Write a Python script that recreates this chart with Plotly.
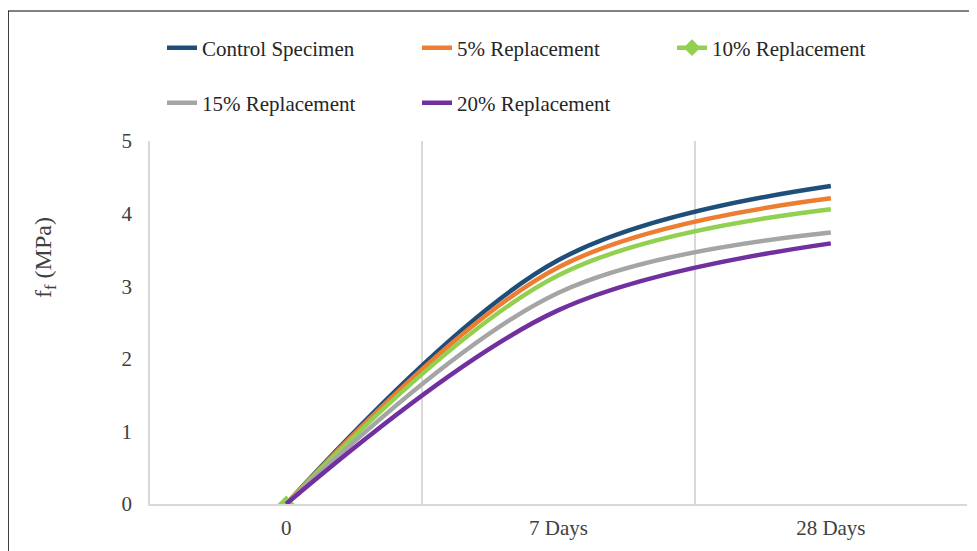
import plotly.graph_objects as go

categories = ["0", "7 Days", "28 Days"]
series_names = ["Control Specimen", "5% Replacement", "10% Replacement",
                "15% Replacement", "20% Replacement"]
control = [0, 3.36, 4.38]
rep5 = [0, 3.26, 4.21]
rep10 = [0, 3.15, 4.06]
rep15 = [0, 2.91, 3.74]
rep20 = [0, 2.67, 3.59]
y_ticks = [0, 1, 2, 3, 4, 5]

colors = ["#1F4E79", "#ED7D31", "#92D050", "#A5A5A5", "#7030A0"]
values = [control, rep5, rep10, rep15, rep20]
legends = ["legend", "legend", "legend", "legend2", "legend2"]

OFF = 8  # page body margin
W, H = 977 - OFF, 551 - OFF
# plot area in page pixels: x 150..967, y 141..504
L, R, T, B = 150 - OFF, W - (967 - OFF), 141 - OFF, H - (504 - OFF)
pw, ph = W - L - R, H - T - B


def px_x(p):
    # page pixel -> paper coord
    return (p - OFF - L) / pw


def px_y(p):
    return (H - B - (p - OFF)) / ph


fig = go.Figure()
for i, (name, vals, col, lg) in enumerate(zip(series_names, values, colors, legends)):
    if i == 2:
        fig.add_trace(go.Scatter(x=categories, y=vals, mode="lines", name=name,
                                 line=dict(color=col, width=4.5, shape="spline", smoothing=1.0),
                                 showlegend=False, hoverinfo="skip"))
        fig.add_trace(go.Scatter(x=categories[:1], y=vals[:1], mode="lines+markers", name=name,
                                 line=dict(color=col, width=4.5),
                                 marker=dict(symbol="diamond", size=13, color=col),
                                 legend=lg))
    else:
        fig.add_trace(go.Scatter(x=categories, y=vals, mode="lines", name=name,
                                 line=dict(color=col, width=4.5, shape="spline", smoothing=1.0),
                                 legend=lg))

font_main = "Liberation Serif, Times New Roman, serif"
txt_col = "#404040"

legend_common = dict(orientation="h", xanchor="left", yanchor="middle",
                     font=dict(family=font_main, size=21, color="#262626"),
                     entrywidth=210, entrywidthmode="pixels",
                     bgcolor="rgba(0,0,0,0)", itemwidth=30, traceorder="normal")

fig.update_layout(
    width=W, height=H,
    margin=dict(l=L, r=R, t=T, b=B),
    paper_bgcolor="white", plot_bgcolor="white",
    font=dict(family=font_main, color=txt_col),
    legend=dict(x=px_x(162), y=px_y(48), **legend_common),
    legend2=dict(x=px_x(162), y=px_y(103), **legend_common),
    xaxis=dict(type="category", range=[-0.5, 2.5], tickson="boundaries",
               showgrid=True, gridcolor="#D9D9D9", gridwidth=1.5,
               showline=True, linecolor="#D9D9D9", linewidth=1.5,
               ticks="", ticklabelstandoff=4,
               tickfont=dict(family=font_main, size=21, color=txt_col),
               zeroline=False),
    yaxis=dict(range=[0, 5], tickvals=y_ticks, showgrid=False,
               showline=True, linecolor="#D9D9D9", linewidth=1.5,
               ticks="", ticklabelstandoff=12,
               tickfont=dict(family=font_main, size=21, color=txt_col),
               zeroline=False),
    showlegend=True,
    annotations=[dict(text="f<sub>f</sub> (MPa)", textangle=-90,
                      xref="paper", yref="paper", x=px_x(45), y=px_y(258),
                      xanchor="center", yanchor="middle", showarrow=False,
                      font=dict(family=font_main, size=24, color=txt_col))],
    shapes=[
        dict(type="line", xref="paper", yref="paper", x0=px_x(8), x1=px_x(977),
             y0=px_y(11), y1=px_y(11), line=dict(color="#808080", width=2)),
        dict(type="line", xref="paper", yref="paper", x0=px_x(8), x1=px_x(8),
             y0=px_y(11), y1=px_y(551), line=dict(color="#000000", width=1.5)),
    ],
)

fig.write_html("out.html")
